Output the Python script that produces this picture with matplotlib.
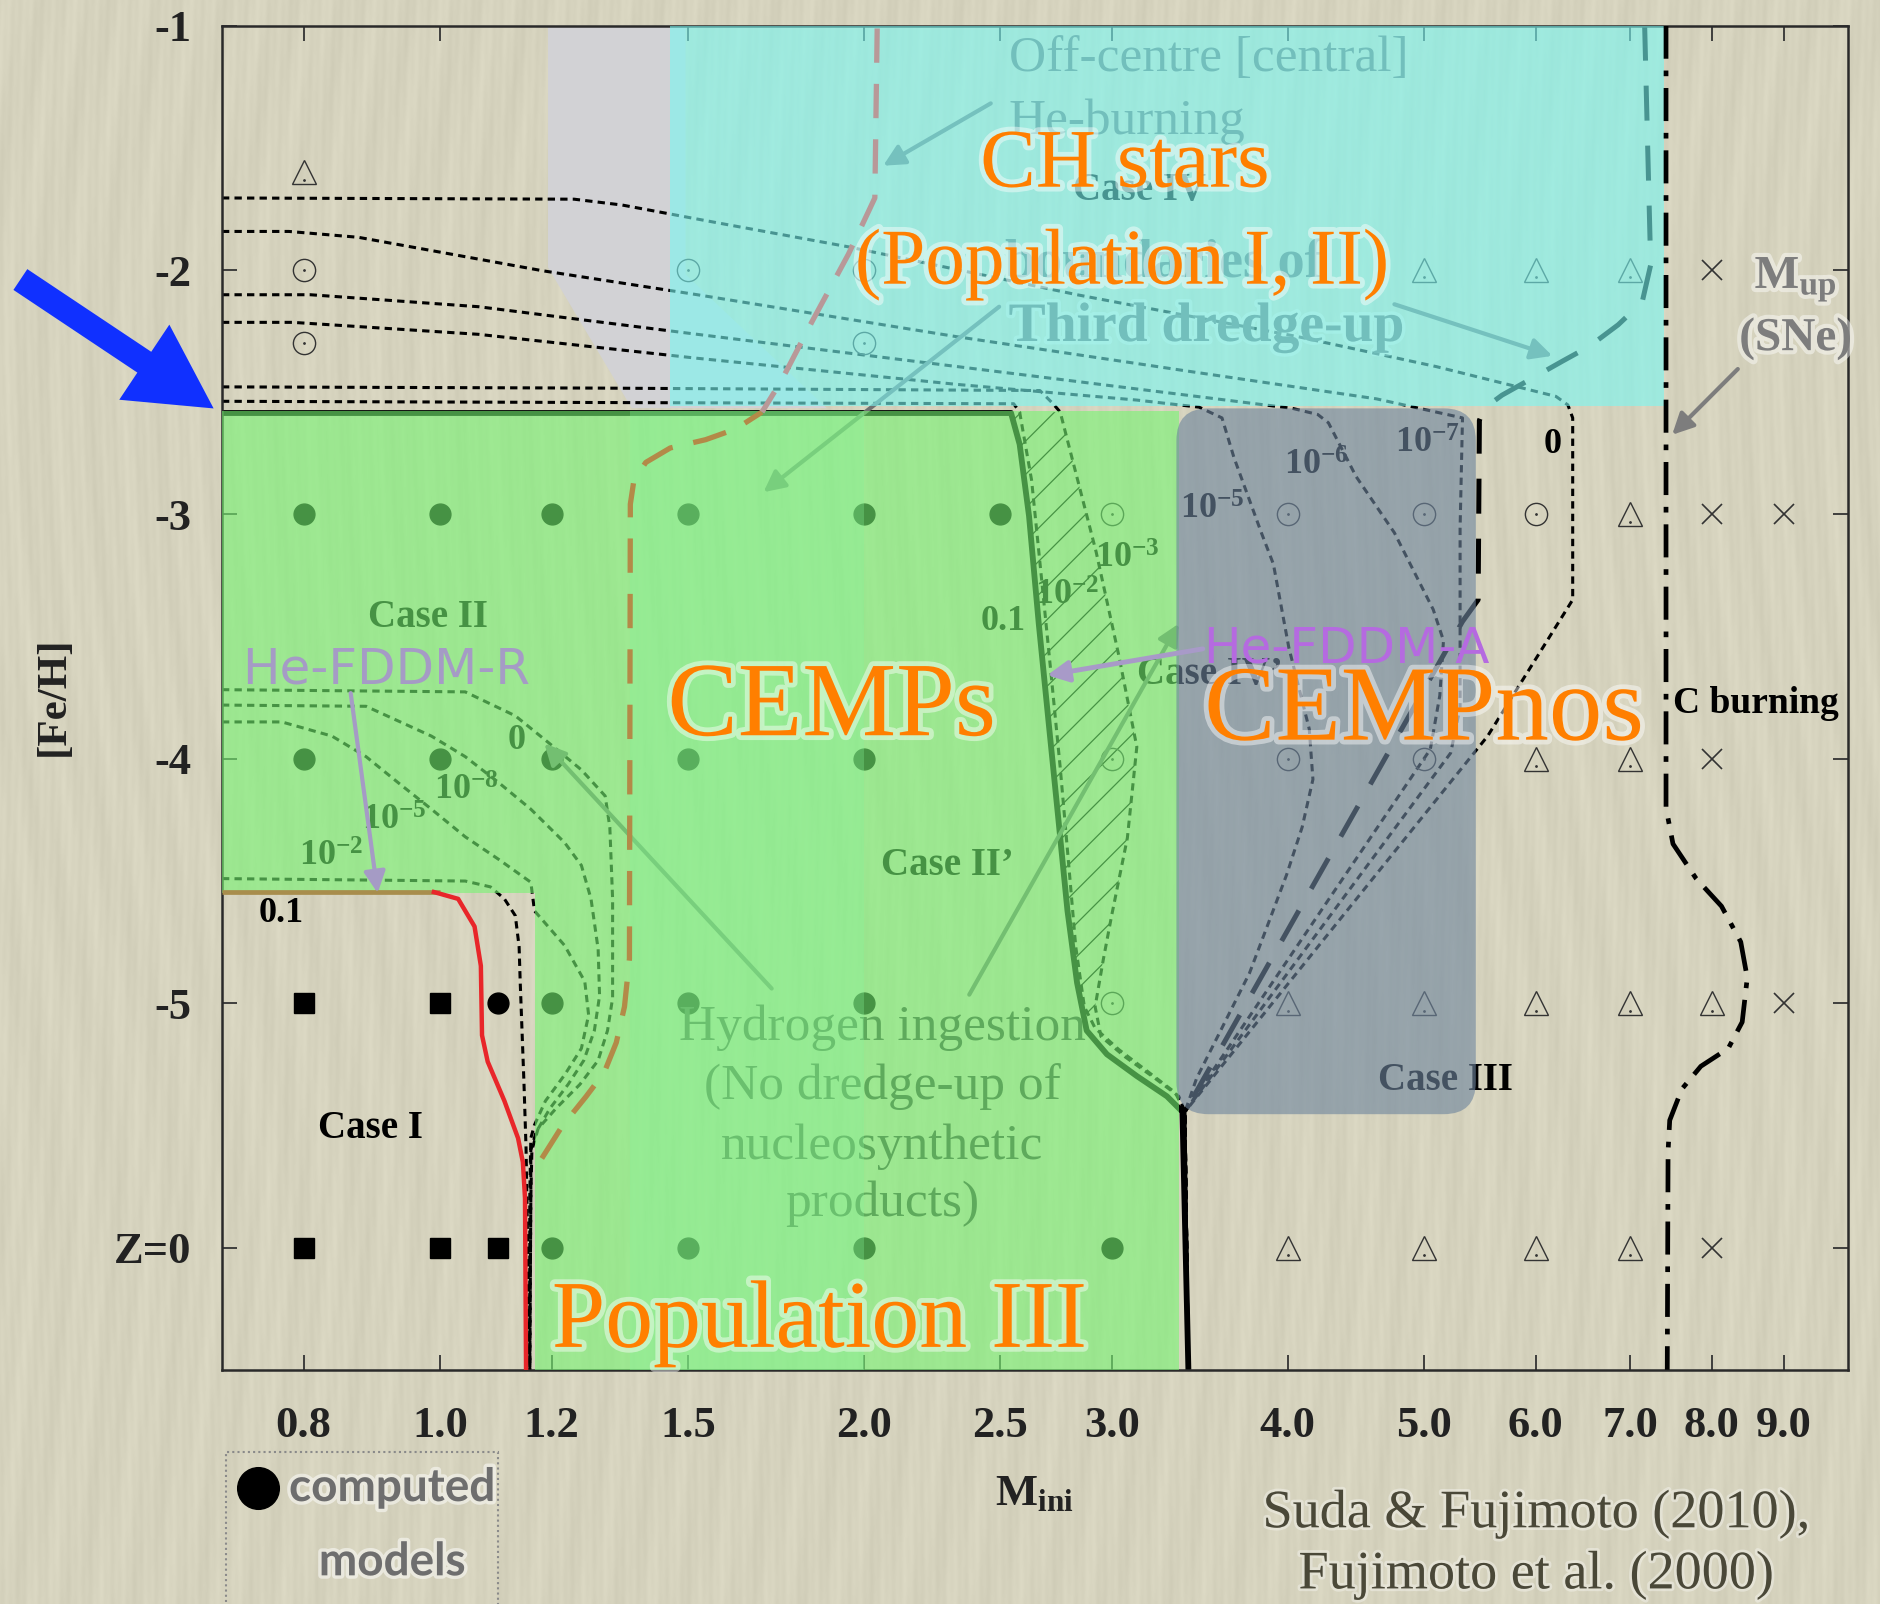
import numpy as np
import matplotlib
matplotlib.use('Agg')
import matplotlib.pyplot as plt
from matplotlib.patches import Polygon, Rectangle, FancyBboxPatch, FancyArrowPatch
from matplotlib.ticker import NullLocator
import matplotlib.patheffects as pe

plt.rcParams['font.family'] = ['Liberation Serif', 'DejaVu Serif']
plt.rcParams['mathtext.fontset'] = 'custom'
plt.rcParams['mathtext.rm'] = 'Liberation Serif'
plt.rcParams['mathtext.bf'] = 'Liberation Serif:bold'
plt.rcParams['hatch.linewidth'] = 0.9
plt.rcParams['hatch.color'] = 'black'

# ---- axes ----
mass_ticks = [0.8, 1.0, 1.2, 1.5, 2.0, 2.5, 3.0, 4.0, 5.0, 6.0, 7.0, 8.0, 9.0]
mass_labels = ['0.8', '1.0', '1.2', '1.5', '2.0', '2.5', '3.0', '4.0', '5.0', '6.0', '7.0', '8.0', '9.0']
feh_ticks = [-1, -2, -3, -4, -5, -6]
feh_labels = ['-1', '-2', '-3', '-4', '-5', 'Z=0']

# ---- computed models ----
filled_m = [0.8, 1.0, 1.2, 1.5, 2.0, 2.5, 0.8, 1.0, 1.2, 1.5, 2.0, 1.1, 1.2, 1.5, 2.0, 1.2, 1.5, 2.0, 3.0]
filled_feh = [-3, -3, -3, -3, -3, -3, -4, -4, -4, -4, -4, -5, -5, -5, -5, -6, -6, -6, -6]
square_m = [0.8, 1.0, 0.8, 1.0, 1.1]
square_feh = [-5, -5, -6, -6, -6]
dotcirc_m = [0.8, 0.8, 1.5, 2.0, 2.0, 3.0, 4.0, 5.0, 6.0, 3.0, 4.0, 5.0, 3.0]
dotcirc_feh = [-2, -2.3, -2, -2, -2.3, -3, -3, -3, -3, -4, -4, -4, -5]
tri_m = [0.8, 5, 6, 7, 7, 6, 7, 4, 5, 6, 7, 8, 4, 5, 6, 7]
tri_feh = [-1.6, -2, -2, -2, -3, -4, -4, -5, -5, -5, -5, -5, -6, -6, -6, -6]
cross_m = [8, 8, 9, 8, 9, 8]
cross_feh = [-2, -3, -3, -4, -5, -6]

# ---- boundaries (mass, [Fe/H]) ----
# 0.1 contour of the He-flash driven mixing (solid)
mix01_m = [0.70, 2.544, 2.580, 2.620, 2.662, 2.704, 2.747, 2.790, 2.834, 2.879, 2.976, 3.125, 3.283, 3.367, 3.400]
mix01_feh = [-2.585, -2.585, -2.713, -3.007, -3.447, -3.839, -4.231, -4.622, -4.916, -5.112, -5.209, -5.298, -5.381, -5.444, -6.5]
# 1e-3 and 1e-2 contours
mix3_m = [0.70, 1.295, 2.667, 2.725, 2.757, 2.924, 3.035, 3.125, 3.077, 3.000, 2.959, 2.919, 2.947, 3.065, 3.219, 3.347, 3.381, 3.40]
mix3_feh = [-2.478, -2.483, -2.493, -2.547, -2.581, -3.154, -3.580, -3.951, -4.324, -4.637, -4.818, -5.014, -5.136, -5.219, -5.307, -5.381, -5.444, -6.5]
mix2_m = [0.70, 1.295, 2.555, 2.580, 2.631, 2.673, 2.715, 2.757, 2.795, 2.828, 2.868, 2.919, 3.035, 3.187, 3.328, 3.381, 3.40]
mix2_feh = [-2.537, -2.542, -2.547, -2.581, -2.860, -3.252, -3.643, -4.035, -4.426, -4.769, -5.014, -5.102, -5.190, -5.283, -5.366, -5.444, -6.5]
# third dredge-up boundaries: 0, 1e-7, 1e-6, 1e-5
tdu0_m = [0.70, 1.245, 1.347, 1.575, 1.950, 2.834, 4.062, 5.099, 6.202, 6.324, 6.374, 6.374, 5.546, 3.381, 3.40]
tdu0_feh = [-1.705, -1.710, -1.734, -1.807, -1.905, -2.101, -2.272, -2.395, -2.517, -2.552, -2.605, -3.349, -3.907, -5.444, -6.5]
tdu7_m = [0.70, 0.781, 0.875, 1.183, 1.523, 2.330, 3.446, 4.624, 5.323, 5.302, 5.302, 5.221, 3.381, 3.40]
tdu7_feh = [-1.842, -1.842, -1.866, -2.003, -2.101, -2.273, -2.419, -2.527, -2.605, -3.056, -3.790, -3.976, -5.444, -6.5]
tdu6_m = [0.70, 0.809, 1.065, 1.523, 2.330, 3.446, 4.031, 4.201, 4.275, 4.473, 4.762, 5.074, 5.160, 5.129, 5.050, 3.381, 3.40]
tdu6_feh = [-2.101, -2.101, -2.150, -2.263, -2.395, -2.517, -2.566, -2.591, -2.625, -2.845, -3.075, -3.389, -3.516, -3.741, -3.961, -5.444, -6.5]
tdu5_m = [0.70, 0.786, 1.065, 1.523, 2.330, 3.125, 3.460, 3.592, 3.663, 3.831, 3.907, 4.007, 4.143, 4.168, 4.095, 3.992, 3.876, 3.757, 3.584, 3.446, 3.381, 3.40]
tdu5_feh = [-2.214, -2.214, -2.263, -2.361, -2.468, -2.532, -2.561, -2.605, -2.767, -3.075, -3.203, -3.545, -3.878, -4.084, -4.280, -4.475, -4.671, -4.877, -5.112, -5.307, -5.444, -6.5]
# He-FDDM-R contours: 0, 1e-8, 1e-5, 1e-2
rmix0_m = [0.70, 1.042, 1.131, 1.193, 1.260, 1.310, 1.320, 1.326, 1.326, 1.315, 1.295, 1.257, 1.209, 1.174, 1.162, 1.160, 1.158]
rmix0_feh = [-3.717, -3.726, -3.824, -3.932, -4.045, -4.152, -4.280, -4.573, -4.979, -5.112, -5.234, -5.332, -5.430, -5.513, -5.601, -5.797, -6.5]
rmix8_m = [0.70, 0.886, 0.986, 1.042, 1.101, 1.160, 1.226, 1.260, 1.280, 1.295, 1.298, 1.287, 1.265, 1.233, 1.197, 1.170, 1.160, 1.160, 1.158]
rmix8_feh = [-3.780, -3.785, -3.907, -3.991, -4.098, -4.206, -4.343, -4.436, -4.573, -4.779, -4.970, -5.112, -5.234, -5.332, -5.430, -5.528, -5.601, -5.797, -6.5]
rmix5_m = [0.70, 0.772, 0.838, 0.886, 0.934, 0.986, 1.042, 1.101, 1.160, 1.167, 1.226, 1.267, 1.275, 1.260, 1.226, 1.188, 1.167, 1.160, 1.158, 1.158]
rmix5_feh = [-3.849, -3.849, -3.907, -3.991, -4.098, -4.206, -4.319, -4.412, -4.505, -4.622, -4.764, -4.911, -5.048, -5.185, -5.293, -5.400, -5.498, -5.552, -5.797, -6.5]
rmix2_m = [0.70, 1.042, 1.086, 1.111, 1.131, 1.138, 1.140, 1.147, 1.151, 1.158]
rmix2_feh = [-4.490, -4.500, -4.524, -4.573, -4.642, -4.769, -4.911, -5.322, -5.596, -6.5]
# 0.1 contour of He-FDDM-R (olive then red)
rflat_m = [0.70, 1.00]
rflat_feh = [-4.545, -4.545]
red_m = [0.99, 1.030, 1.058, 1.069, 1.071, 1.081, 1.111, 1.136, 1.145, 1.149, 1.151]
red_feh = [-4.545, -4.573, -4.686, -4.847, -5.131, -5.239, -5.400, -5.552, -5.650, -5.797, -6.5]
# off-centre He ignition (brown dashed)
heign_m = [1.181, 1.221, 1.270, 1.308, 1.334, 1.352, 1.363, 1.365, 1.373, 1.400, 1.457, 1.544, 1.622, 1.693]
heign_feh = [-5.635, -5.503, -5.381, -5.283, -5.161, -5.014, -4.818, -2.958, -2.860, -2.787, -2.728, -2.694, -2.650, -2.581]
heign_up_m = [1.693, 1.747, 1.838, 1.950, 2.036, 2.044]
heign_up_feh = [-2.581, -2.454, -2.209, -1.935, -1.705, -1.0]
# third dredge-up boundary (dashed)
tdub_m = [7.170, 7.198, 7.241, 7.141, 6.866, 6.551, 6.276, 5.939, 5.678, 5.514, 5.472, 5.461, 5.323, 3.381]
tdub_feh = [-1.0, -1.392, -1.979, -2.131, -2.224, -2.312, -2.371, -2.449, -2.512, -2.566, -2.615, -3.349, -3.438, -5.444]
# M_up (dash-dot)
mup_m = [7.425, 7.425, 7.51, 7.80, 8.13, 8.39, 8.48, 8.41, 8.22, 7.86, 7.62, 7.47, 7.45, 7.44]
mup_feh = [-1.0, -4.201, -4.348, -4.490, -4.603, -4.749, -4.896, -5.077, -5.185, -5.258, -5.351, -5.479, -5.606, -6.5]

# ---- shaded regions ----
green_m = [0.70, 3.35, 3.35, 1.167, 1.167, 0.70]
green_feh = [-2.575, -2.575, -6.5, -6.5, -4.55, -4.55]
band_m = [1.365, 2.0]
gray_m = [1.193, 1.494, 1.494, 1.882, 1.368, 1.193]
gray_feh = [-1.0, -1.0, -2.018, -2.565, -2.565, -1.989]
cyan_m = [1.457, 7.40]
cyan_feh = [-2.555, -1.0]
nos_m = [3.334, 5.44]
nos_feh = [-5.454, -2.566]

W, H = 1881, 1604
fig = plt.figure(figsize=(W / 100, H / 100), dpi=100)
fig.patch.set_facecolor('#d6d3be')

# paper texture: fine vertical fibres
xx = np.arange(W)[None, :]
yy = np.arange(H)[:, None]
streak = (0.45 * np.sin(2 * np.pi * (xx / 23.0 + 0.9 * np.sin(2 * np.pi * yy / 1300.0)))
          + 0.30 * np.sin(2 * np.pi * (xx / 7.3 + 0.6 * np.sin(2 * np.pi * yy / 900.0)))
          + 0.35 * np.sin(2 * np.pi * (xx / 61.0 + 1.2 * np.sin(2 * np.pi * yy / 1700.0)))
          + 0.15 * np.sin(2 * np.pi * yy / 57.0) * np.sin(2 * np.pi * xx / 13.0))
paper = np.clip(np.array([214, 211, 190]) / 255 + streak[..., None] * 0.022, 0, 1)
fig.figimage(paper, xo=0, yo=0, origin='upper', zorder=-1)

ax = fig.add_axes([0.118, 0.146, 0.8645, 0.838])
ax.patch.set_visible(False)
ax.set_xscale('log')
ax.set_xlim(0.7, 10)
ax.set_ylim(-6.5, -1)
ax.xaxis.set_minor_locator(NullLocator())
ax.set_xticks(mass_ticks, mass_labels)
ax.set_yticks(feh_ticks, feh_labels)
ax.set_axisbelow(True)
ax.tick_params(direction='in', top=True, right=True, length=11, width=1.3, color='#333333')
ax.tick_params(axis='x', labelsize=32, pad=26)
ax.tick_params(axis='y', labelsize=32, pad=22)
for lbl in ax.get_xticklabels() + ax.get_yticklabels():
    lbl.set_fontweight('bold')
    lbl.set_color('#222222')
for sp in ax.spines.values():
    sp.set_linewidth(1.8)
    sp.set_color('#2a2a2a')
    sp.set_zorder(4)

# background gray band
ax.add_patch(Polygon(np.column_stack([gray_m, gray_feh]), closed=True, facecolor='#d2d2d5', edgecolor='none', zorder=1))

# dotted contour lines
dot = dict(color='black', lw=2.2, linestyle=(0, (2.4, 1.7)), zorder=3)
for m, f in [(tdu0_m, tdu0_feh), (tdu7_m, tdu7_feh), (tdu6_m, tdu6_feh), (tdu5_m, tdu5_feh),
             (mix3_m, mix3_feh), (mix2_m, mix2_feh),
             (rmix0_m, rmix0_feh), (rmix8_m, rmix8_feh), (rmix5_m, rmix5_feh), (rmix2_m, rmix2_feh)]:
    ax.plot(m, f, **dot)
ax.plot(mix01_m, mix01_feh, color='black', lw=4.2, zorder=3, solid_capstyle='butt')
ax.plot(tdub_m, tdub_feh, color='black', lw=3.6, linestyle=(0, (7, 5)), zorder=3)

# hatched band between the 0.1 and 1e-3 contours
hatch_xy = np.concatenate([np.column_stack([mix01_m[1:10], mix01_feh[1:10]]),
                           np.column_stack([mix3_m[4:12], mix3_feh[4:12]])[::-1]])
ax.add_patch(Polygon(hatch_xy, closed=True, facecolor='none', edgecolor='black', lw=0, hatch='/', zorder=2))

# model markers
mk = dict(linestyle='none', zorder=3)
ax.plot(filled_m, filled_feh, marker='o', ms=15, color='black', **mk)
ax.plot(square_m, square_feh, marker='s', ms=14, color='black', **mk)
ax.plot(dotcirc_m, dotcirc_feh, marker='o', ms=16, mfc='none', mec='#333333', mew=1.0, **mk)
ax.plot(dotcirc_m, dotcirc_feh, marker='.', ms=2, color='#333333', **mk)
ax.plot(tri_m, tri_feh, marker='^', ms=17, mfc='none', mec='#333333', mew=1.0, **mk)
ax.plot(tri_m, [f - 0.03 for f in tri_feh], marker='.', ms=2, color='#333333', **mk)
ax.plot(cross_m, cross_feh, marker='x', ms=15, color='#333333', mew=1.2, **mk)

# labels of the original diagram (tinted by the overlays)
bold = dict(fontweight='bold', color='black', zorder=3, ha='center', va='center')
ax.text(0.981, -3.423, 'Case II', fontsize=28, **bold)
ax.text(0.893, -5.513, 'Case I', fontsize=28, **bold)
ax.text(2.294, -4.436, 'Case II\u2019', fontsize=28, **bold)
ax.text(5.18, -5.317, 'Case III', fontsize=28, **bold)
ax.text(3.138, -1.675, 'Case IV', fontsize=28, **bold)
ax.text(3.52, -3.653, 'Case IV\u2019', fontsize=28, **bold)
ax.text(0.771, -4.632, '0.1', fontsize=26, **bold)
ax.text(1.133, -3.927, '0', fontsize=26, **bold)
ax.text(1.044, -4.133, r'$\mathbf{10^{-8}}$', fontsize=26, **bold)
ax.text(0.928, -4.255, r'$\mathbf{10^{-5}}$', fontsize=26, **bold)
ax.text(0.837, -4.402, r'$\mathbf{10^{-2}}$', fontsize=26, **bold)
ax.text(2.51, -3.438, '0.1', fontsize=26, **bold)
ax.text(2.79, -3.335, r'$\mathbf{10^{-2}}$', fontsize=26, **bold)
ax.text(3.077, -3.183, r'$\mathbf{10^{-3}}$', fontsize=26, **bold)
ax.text(3.536, -2.982, r'$\mathbf{10^{-5}}$', fontsize=26, **bold)
ax.text(4.193, -2.801, r'$\mathbf{10^{-6}}$', fontsize=26, **bold)
ax.text(5.03, -2.713, r'$\mathbf{10^{-7}}$', fontsize=26, **bold)
ax.text(6.166, -2.713, '0', fontsize=26, **bold)
ax.text(7.51, -3.775, 'C burning', fontsize=27, fontweight='bold', color='black', zorder=6, ha='left', va='center')

ax.text(2.534, -1.137, 'Off-centre [central]', fontsize=37, color='#6a6a6a', zorder=3, ha='left', va='center')
ax.text(2.534, -1.392, 'He-burning', fontsize=37, color='#6a6a6a', zorder=3, ha='left', va='center')
ax.text(2.52, -1.979, 'boundaries of', fontsize=39, fontweight='bold', color='#6a6a6a', zorder=3, ha='left', va='center')
ax.text(2.534, -2.233, 'Third dredge-up', fontsize=40, fontweight='bold', color='#6a6a6a', zorder=3, ha='left', va='center',
        path_effects=[pe.withStroke(linewidth=5, foreground='white', alpha=0.35)])
ax.text(2.06, -5.102, 'Hydrogen ingestion', fontsize=37, color='#3c3c3c', zorder=3, ha='center', va='center')
ax.text(2.06, -5.342, '(No dredge-up of', fontsize=37, color='#3c3c3c', zorder=3, ha='center', va='center')
ax.text(2.06, -5.586, 'nucleosynthetic', fontsize=37, color='#3c3c3c', zorder=3, ha='center', va='center')
ax.text(2.06, -5.821, 'products)', fontsize=37, color='#3c3c3c', zorder=3, ha='center', va='center')

# gray pointers under the overlays
gray_arrow = dict(arrowstyle='-|>', color='#707070', lw=3, mutation_scale=32, shrinkA=0, shrinkB=0)
ax.annotate('', xy=(2.064, -1.573), xytext=(2.461, -1.318), arrowprops=gray_arrow, zorder=3)
ax.annotate('', xy=(6.166, -2.351), xytext=(4.762, -2.140), arrowprops=gray_arrow, zorder=3)
ax.annotate('', xy=(1.697, -2.909), xytext=(2.495, -2.150), arrowprops=gray_arrow, zorder=3)
ax.annotate('', xy=(1.186, -3.937), xytext=(1.720, -4.940), arrowprops=gray_arrow, zorder=3)
ax.annotate('', xy=(3.347, -3.447), xytext=(2.376, -4.965), arrowprops=gray_arrow, zorder=3)

# colour overlays
ax.add_patch(Polygon(np.column_stack([green_m, green_feh]), closed=True, facecolor='#76f572', alpha=0.6,
                     edgecolor='none', zorder=5))
ax.add_patch(Rectangle((band_m[0], -6.5), band_m[1] - band_m[0], green_feh[0] + 6.5, facecolor='#86f59a',
                       alpha=0.3, edgecolor='none', zorder=5))
ax.add_patch(Rectangle((cyan_m[0], cyan_feh[0]), cyan_m[1] - cyan_m[0], cyan_feh[1] - cyan_feh[0],
                       facecolor='#79f8f3', alpha=0.6, edgecolor='none', zorder=5))
to_axes = ax.transData + ax.transAxes.inverted()
(bx0, by0), (bx1, by1) = to_axes.transform([(nos_m[0], nos_feh[0]), (nos_m[1], nos_feh[1])])
ax_w_px = 0.8645 * W
ax_h_px = 0.838 * H
ax.add_patch(FancyBboxPatch((bx0, by0), bx1 - bx0, by1 - by0,
                            boxstyle='round,pad=0,rounding_size=%.4f' % (32 / ax_w_px),
                            mutation_aspect=ax_w_px / ax_h_px, transform=ax.transAxes,
                            facecolor='#6f869e', alpha=0.62, edgecolor='none', zorder=5))

# coloured lines on top of the overlays
ax.plot(heign_m, heign_feh, color='#b38a48', lw=3.8, linestyle=(0, (6.5, 4)), zorder=6)
ax.plot(heign_up_m, heign_up_feh, color='#b89898', lw=3.8, linestyle=(2, (6.5, 4)), zorder=6)
ax.plot(rflat_m, rflat_feh, color='#a88d4c', lw=3.4, zorder=6, solid_capstyle='butt')
ax.plot(red_m, red_feh, color='#e8262a', lw=3.2, zorder=6)
ax.plot(mup_m, mup_feh, color='black', lw=3.4, linestyle=(0, (7, 2.5, 1.2, 2.5)), zorder=6)

ax.annotate('', xy=(0.903, -4.549), xytext=(0.864, -3.731),
            arrowprops=dict(arrowstyle='-|>', color='#a59bc5', lw=3, mutation_scale=32, shrinkA=0, shrinkB=0), zorder=7)
ax.annotate('', xy=(2.699, -3.658), xytext=(3.481, -3.550),
            arrowprops=dict(arrowstyle='-|>', color='#a89ac8', lw=3.5, mutation_scale=32, shrinkA=0, shrinkB=0), zorder=7)
ax.annotate('', xy=(7.50, -2.674), xytext=(8.35, -2.405),
            arrowprops=dict(arrowstyle='-|>', color='#7d7d7d', lw=3, mutation_scale=32, shrinkA=0, shrinkB=0), zorder=7)

sans = ['DejaVu Sans']
ax.text(0.724, -3.633, 'He-FDDM-R', fontsize=36, family=sans, color='#a59bc5', zorder=7, ha='left', va='center')
ax.text(3.481, -3.550, 'He-FDDM-A', fontsize=36, family=sans, color='#b56ae0', zorder=7, ha='left', va='center')
glow = [pe.withStroke(linewidth=6, foreground='white', alpha=0.45)]
ax.text(9.18, -2.038, r'$\mathbf{M_{up}}$', fontsize=34, color='#7d7d7d', zorder=7, ha='center', va='center', path_effects=glow)
ax.text(9.18, -2.282, '(SNe)', fontsize=34, fontweight='bold', color='#7d7d7d', zorder=7, ha='center', va='center', path_effects=glow)

# stellar population labels
orange = dict(color='#ff7f00', zorder=8, ha='center', va='center',
              path_effects=[pe.withStroke(linewidth=7, foreground='white', alpha=0.45)])
ax.text(3.065, -1.578, 'CH stars', fontsize=60, **orange)
ax.text(3.05, -1.979, '(Population I, II)', fontsize=57, **orange)
ax.text(1.897, -3.80, 'CEMPs', fontsize=76, **orange)
ax.text(5.0, -3.815, 'CEMPnos', fontsize=77, **orange)
ax.text(1.860, -6.311, 'Population III', fontsize=69, **orange)

# figure-level annotations
fig.text(0.0287, 0.566, '[Fe/H]', rotation=90, fontsize=31, fontweight='bold', color='#222222', ha='center', va='center')
fig.text(0.550, 0.0686, r'$\mathbf{M_{ini}}$', fontsize=32, color='#222222', ha='center', va='center')
fig.add_artist(FancyArrowPatch((0.0096, 0.8267), (0.1148, 0.7444), transform=fig.transFigure,
                               arrowstyle='simple,head_length=1.2,head_width=1.3,tail_width=0.36',
                               mutation_scale=50, color='#1030ff', lw=0))
fig.add_artist(Rectangle((0.120, -0.01), 0.1446, 0.1048, transform=fig.transFigure, facecolor='none',
                         edgecolor='#8a8a8a', lw=1.5, linestyle=(0, (1, 1.5))))
fig.add_artist(plt.Line2D([0.137], [0.0723], transform=fig.transFigure, marker='o', ms=30, color='black'))
legend_glow = [pe.withStroke(linewidth=5, foreground='white', alpha=0.5)]
fig.text(0.2085, 0.0723, 'computed', fontsize=33, family=['Lato', 'DejaVu Sans'], fontweight='bold',
         color='#6e6e6e', ha='center', va='center', path_effects=legend_glow)
fig.text(0.2085, 0.026, 'models', fontsize=33, family=['Lato', 'DejaVu Sans'], fontweight='bold',
         color='#6e6e6e', ha='center', va='center', path_effects=legend_glow)
cite_glow = [pe.withStroke(linewidth=4, foreground='white', alpha=0.35)]
fig.text(0.8165, 0.0561, 'Suda & Fujimoto (2010),', fontsize=39, color='#4a4838', ha='center', va='center', path_effects=cite_glow)
fig.text(0.8165, 0.018, 'Fujimoto et al. (2000)', fontsize=39, color='#4a4838', ha='center', va='center', path_effects=cite_glow)

fig.savefig('out.png', dpi=100)
